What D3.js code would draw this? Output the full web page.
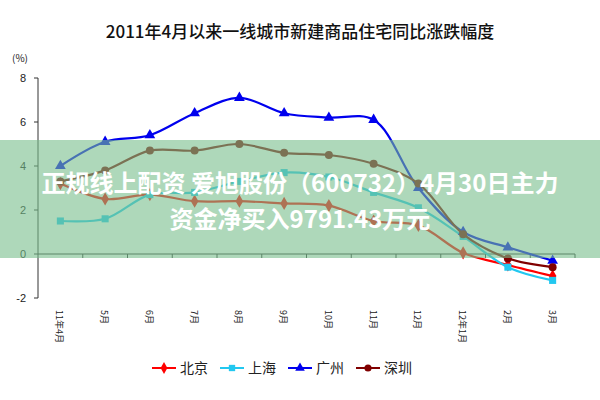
<!DOCTYPE html>
<html><head><meta charset="utf-8">
<script src="https://cdn.jsdelivr.net/npm/d3@7"></script>
<style>body{margin:0;background:#fff}svg{font-family:"Noto Sans CJK SC",sans-serif}</style>
</head><body><svg id="c" width="600" height="400"></svg>
<script>
const months = ["11年4月","5月","6月","7月","8月","9月","10月","11月","12月","12年1月","2月","3月"];
const beijing = [3.2,2.5,2.7,2.4,2.4,2.3,2.2,1.5,1.3,0.05,-0.5,-1.0];
const shanghai = [1.5,1.6,2.7,2.8,3.3,3.7,3.5,2.8,2.1,0.8,-0.6,-1.2];
const guangzhou = [4.0,5.1,5.4,6.4,7.1,6.4,6.2,6.1,3.0,1.0,0.3,-0.3];
const shenzhen = [3.3,3.8,4.7,4.7,5.0,4.6,4.5,4.1,3.2,0.9,-0.2,-0.6];
const yTicks = [-2,0,2,4,6,8];

const series = [
  {name:"北京", values:beijing, color:"#ff0000", sym:d3.symbolDiamond},
  {name:"上海", values:shanghai, color:"#22c8f0", sym:d3.symbolSquare},
  {name:"广州", values:guangzhou, color:"#0000ee", sym:d3.symbolTriangle},
  {name:"深圳", values:shenzhen, color:"#800000", sym:d3.symbolCircle}
];

const svg = d3.select("#c");
const x = d3.scaleBand().domain(months).range([38,575]);
const y = d3.scaleLinear().domain([-2,8]).range([298,78]);
const cx = d => x(d) + x.bandwidth()/2;

svg.append("text").attr("x",300).attr("y",38).attr("text-anchor","middle")
  .attr("font-size",17).attr("font-weight",500).attr("fill","#111").text("2011年4月以来一线城市新建商品住宅同比涨跌幅度");
svg.append("text").attr("x",20).attr("y",62).attr("text-anchor","middle")
  .attr("font-size",10).attr("fill","#222").text("(%)");

// y axis
svg.append("line").attr("x1",38).attr("x2",38).attr("y1",y(8)).attr("y2",y(-2)).attr("stroke","#333");
yTicks.forEach(t => {
  svg.append("line").attr("x1",34).attr("x2",38).attr("y1",y(t)).attr("y2",y(t)).attr("stroke","#333");
  svg.append("text").attr("x",26).attr("y",y(t)+4).attr("text-anchor","end")
    .attr("font-size",11).attr("font-family","Arial, Liberation Sans").attr("fill","#222").text(t);
});
// x axis at 0
svg.append("line").attr("x1",38).attr("x2",575).attr("y1",y(0)).attr("y2",y(0)).attr("stroke","#333");
months.forEach((m,i) => {
  svg.append("line").attr("x1",x(m)+x.bandwidth()).attr("x2",x(m)+x.bandwidth())
    .attr("y1",y(0)).attr("y2",y(0)+4).attr("stroke","#333");
  svg.append("text").attr("transform",`translate(${cx(m)-4},${y(-2)+12}) rotate(90)`)
    .attr("font-size",9).attr("fill","#222").text(m);
});

const line = d3.line().x((d,i)=>cx(months[i])).y(d=>y(d)).curve(d3.curveCatmullRom.alpha(0.5));
series.forEach(s => {
  svg.append("path").attr("d",line(s.values)).attr("fill","none")
    .attr("stroke",s.color).attr("stroke-width",2.2);
  svg.selectAll(null).data(s.values).enter().append("path")
    .attr("d",d3.symbol().type(s.sym).size(50))
    .attr("transform",(d,i)=>`translate(${cx(months[i])},${y(d)})`)
    .attr("fill",s.color);
});

// legend
const lg = svg.append("g").attr("transform","translate(152,368)");
series.forEach((s,i) => {
  const g = lg.append("g").attr("transform",`translate(${i*68},0)`);
  g.append("line").attr("x1",0).attr("x2",24).attr("stroke",s.color).attr("stroke-width",2);
  g.append("path").attr("d",d3.symbol().type(s.sym).size(40)).attr("transform","translate(12,0)").attr("fill",s.color);
  g.append("text").attr("x",28).attr("y",5).attr("font-size",14).attr("fill","#222").text(s.name);
});

// overlay band
svg.append("rect").attr("x",0).attr("y",140).attr("width",600).attr("height",118)
  .attr("fill","rgb(120,190,140)").attr("opacity",0.6);
svg.append("text").attr("x",300).attr("y",192).attr("text-anchor","middle").attr("font-size",24)
  .attr("font-weight","bold").attr("fill","#fff").text("正规线上配资 爱旭股份（600732）4月30日主力");
svg.append("text").attr("x",300).attr("y",228).attr("text-anchor","middle").attr("font-size",24)
  .attr("font-weight","bold").attr("fill","#fff").text("资金净买入9791.43万元");
</script></body></html>
